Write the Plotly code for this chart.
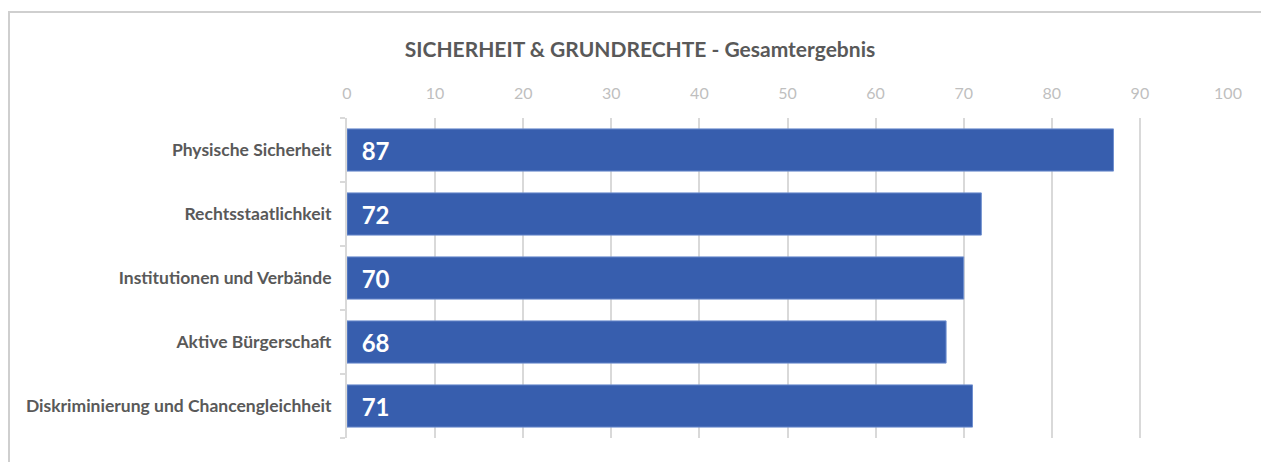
import plotly.graph_objects as go

categories = ["Physische Sicherheit", "Rechtsstaatlichkeit", "Institutionen und Verbände",
              "Aktive Bürgerschaft", "Diskriminierung und Chancengleichheit"]
values = [87, 72, 70, 68, 71]
tick_vals = [0, 10, 20, 30, 40, 50, 60, 70, 80, 90, 100]

# page body has an 8px margin, so the figure is placed at (8, 8) in the window
OFF = 8
W, H = 1269 - OFF, 462 - OFF
L, R, T, B = 347 - OFF, 41, 118 - OFF, 24
pw, ph = W - L - R, H - T - B

fig = go.Figure(go.Bar(
    x=values, y=categories, orientation="h",
    marker=dict(color="#375EAE", line=dict(color="#6F8FCF", width=1)),
    text=["\u00a0\u00a0" + str(v) for v in values], textposition="inside",
    insidetextanchor="start",
    textfont=dict(family="Lato", size=24, color="white", weight="bold"),
    width=0.66, hoverinfo="skip",
))

fig.update_layout(
    width=W, height=H, margin=dict(l=L, r=R, t=T, b=B),
    paper_bgcolor="white", plot_bgcolor="white", showlegend=False,
    title=dict(text="<b>SICHERHEIT & GRUNDRECHTE - Gesamtergebnis</b>",
               font=dict(family="Lato", size=21, color="#595959"),
               x=(640 - OFF) / W, xref="container", xanchor="center",
               y=1 - (50 - OFF) / H, yanchor="middle"),
    xaxis=dict(side="top", range=[0, 100], tickvals=tick_vals, showgrid=True,
               gridcolor="#D9D9D9", gridwidth=2, zeroline=False, showline=False,
               tickfont=dict(family="Lato", size=16, color="#BFBFBF"),
               ticklabelstandoff=15, fixedrange=True),
    yaxis=dict(categoryorder="array", categoryarray=categories[::-1], autorange=False,
               range=[-0.5, 4.5], showline=True, linecolor="#D9D9D9", linewidth=2,
               ticks="outside", tickson="boundaries", ticklen=5, tickcolor="#D9D9D9",
               tickwidth=2, showgrid=False,
               tickfont=dict(family="Lato", size=17.5, color="#595959", weight="bold"),
               ticklabelstandoff=10),
    shapes=[dict(type="rect", xref="paper", yref="paper",
                 x0=(1 - L) / pw, x1=(W + 10 - L) / pw,
                 y0=-(B + 10) / ph, y1=1 + (T - (12 - OFF)) / ph,
                 line=dict(color="#CFCFCF", width=2), layer="below")],
)

fig.write_html("out.html")
